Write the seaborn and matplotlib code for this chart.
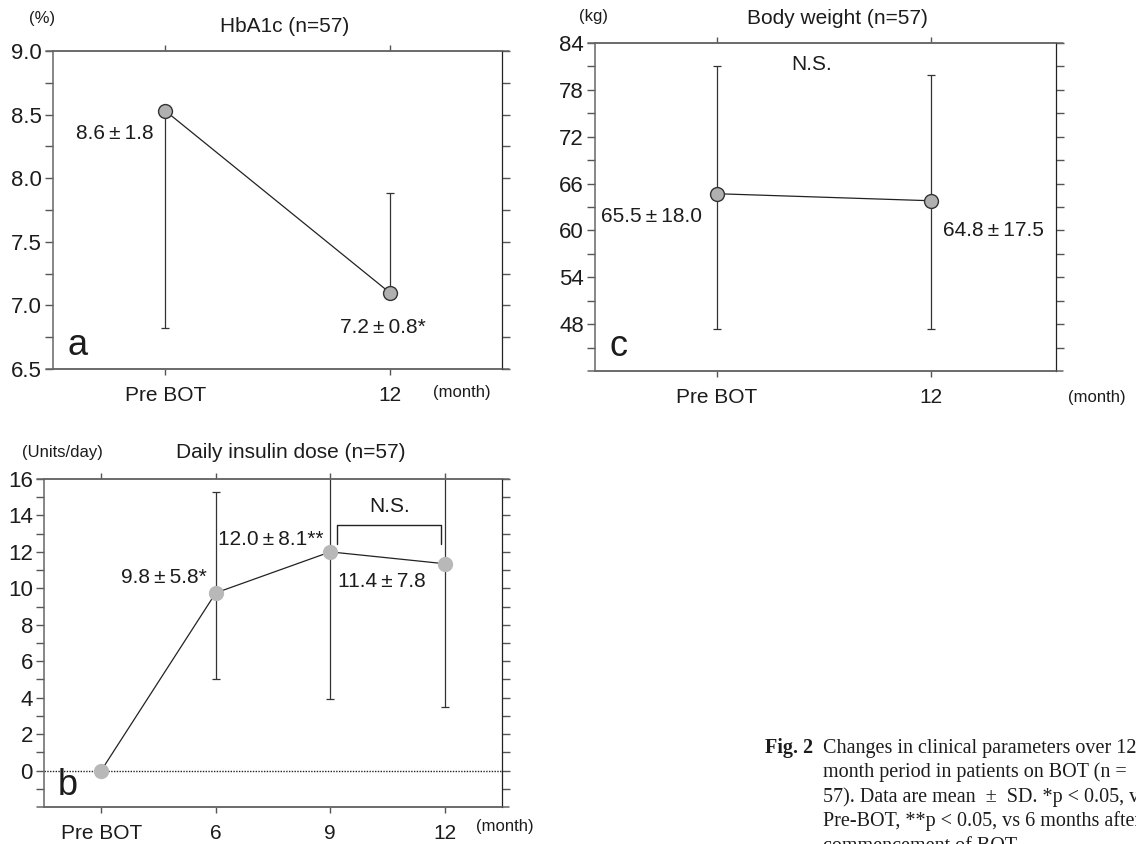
import numpy as np
import pandas as pd
import seaborn as sns
import matplotlib.pyplot as plt

sns.set_theme(style='ticks')
plt.rcParams['font.family'] = ['Liberation Sans', 'DejaVu Sans']

W, H = 1136, 844

# panel a: HbA1c (%)
hba1c_labels = ['Pre BOT', '12']
hba1c_mean = [8.53, 7.10]
hba1c_err_low = [1.71, 0.0]
hba1c_err_high = [0.0, 0.78]
hba1c_text = ['8.6\u2009±\u20091.8', '7.2\u2009±\u20090.8*']

# panel b: daily insulin dose (Units/day)
insulin_labels = ['Pre BOT', '6', '9', '12']
insulin_mean = [0.0, 9.75, 12.0, 11.35]
insulin_err_low = [0.0, 4.75, 8.1, 7.85]
insulin_err_high = [0.0, 5.55, 8.1, 7.85]
insulin_text = ['9.8\u2009±\u20095.8*', '12.0\u2009±\u20098.1**', '11.4\u2009±\u20097.8']

# panel c: body weight (kg)
weight_labels = ['Pre BOT', '12']
weight_mean = [64.7, 63.8]
weight_err_low = [17.3, 16.4]
weight_err_high = [16.4, 16.1]
weight_text = ['65.5\u2009±\u200918.0', '64.8\u2009±\u200917.5']

caption = [
    'Changes in clinical parameters over 12-',
    'month period in patients on BOT (n =',
    '57). Data are mean  ±  SD. *p < 0.05, vs',
    'Pre-BOT, **p < 0.05, vs 6 months after',
    'commencement of BOT.',
]

fig = plt.figure(figsize=(W / 100, H / 100), dpi=100)
fig.patch.set_facecolor('white')
INK = '#1c1c1c'


def px_axes(l, t, r, b):
    return fig.add_axes([l / W, 1 - b / H, (r - l) / W, (b - t) / H])


def ftext(x, y, s, **kw):
    kw.setdefault('color', INK)
    fig.text(x / W, 1 - y / H, s, **kw)


def style(ax, labels, xlim, ylim, majors, minors):
    ax.set_xlim(xlim)
    ax.set_ylim(ylim)
    ax.set_xticks(range(len(labels)))
    ax.set_xticklabels(labels)
    ax.set_yticks(majors)
    ax.set_yticks(minors, minor=True)
    ax.set_xlabel('')
    ax.set_ylabel('')
    ax.tick_params(axis='y', which='both', left=True, right=True, direction='out',
                   length=6, width=1, color='#555555', labelsize=16,
                   labelcolor=INK, pad=2)
    ax.tick_params(axis='x', which='major', bottom=True, top=True, direction='out',
                   length=4, width=1, color='#555555', labelsize=15,
                   labelcolor=INK, pad=8)
    for side in ['left', 'top', 'bottom']:
        ax.spines[side].set_color('#666666')
        ax.spines[side].set_linewidth(1.1)
    ax.spines['right'].set_color('#222222')
    ax.spines['right'].set_linewidth(0.9)
    # top / bottom frame lines run out past the side ticks
    bb = ax.get_position()
    ext = 7 / (bb.width * W)
    for yy in (0, 1):
        ax.plot([-ext, 1 + ext], [yy, yy], transform=ax.transAxes, clip_on=False,
                color='#666666', lw=1.1)


def draw_series(ax, labels, mean, low, high, face, edge):
    x = np.arange(len(labels))
    ax.errorbar(x, mean, yerr=[low, high], fmt='none', ecolor='#333333',
                elinewidth=0.9, capsize=3, capthick=0.9, zorder=1)
    sns.lineplot(x=x, y=mean, ax=ax, color='#222222', lw=0.9, marker='o',
                 markersize=10, markerfacecolor=face, markeredgecolor=edge,
                 markeredgewidth=1.0, zorder=3)


# ---- panel a
ax_a = px_axes(53, 51, 502, 369)
draw_series(ax_a, hba1c_labels, hba1c_mean, hba1c_err_low, hba1c_err_high,
            '#b0b0b0', '#333333')
style(ax_a, hba1c_labels, (-0.5, 1.5), (6.5, 9.0),
      np.arange(6.5, 9.01, 0.5), np.arange(6.75, 9.0, 0.5))
ax_a.text(-0.05, 8.35, hba1c_text[0], ha='right', va='center', fontsize=15, color=INK)
ax_a.text(0.78, 6.83, hba1c_text[1], ha='left', va='center', fontsize=15, color=INK)
ax_a.text(0.033, 0.075, 'a', transform=ax_a.transAxes, ha='left', va='center',
          fontsize=26, color=INK)
ftext(42, 18, '(%)', ha='center', va='center', fontsize=12)
ftext(285, 27, 'HbA1c (n=57)', ha='center', va='center', fontsize=15)
ftext(462, 393, '(month)', ha='center', va='center', fontsize=12)

# ---- panel c
ax_c = px_axes(595, 43, 1056, 371)
draw_series(ax_c, weight_labels, weight_mean, weight_err_low, weight_err_high,
            '#b0b0b0', '#333333')
style(ax_c, weight_labels, (-0.57, 1.584), (42, 84),
      np.arange(48, 85, 6), np.arange(45, 84, 6))
ax_c.text(0.032, 0.075, 'c', transform=ax_c.transAxes, ha='left', va='center',
          fontsize=26, color=INK)
ftext(702, 217, weight_text[0], ha='right', va='center', fontsize=15)
ftext(943, 230, weight_text[1], ha='left', va='center', fontsize=15)
ftext(812, 65, 'N.S.', ha='center', va='center', fontsize=15)
ftext(593, 17, '(kg)', ha='center', va='center', fontsize=12)
ftext(837, 19, 'Body weight (n=57)', ha='center', va='center', fontsize=15)
ftext(1097, 398, '(month)', ha='center', va='center', fontsize=12)

# ---- panel b
ax_b = px_axes(44, 479, 502, 807)
ax_b.axhline(0, ls=(0, (1, 1)), color='#222222', lw=1.0, zorder=0)
draw_series(ax_b, insulin_labels, insulin_mean, insulin_err_low, insulin_err_high,
            '#b8b8b8', '#b8b8b8')
style(ax_b, insulin_labels, (-0.5, 3.5), (-2, 16),
      np.arange(0, 17, 2), np.arange(-1, 16, 2))
ax_b.text(0.924, 10.6, insulin_text[0], ha='right', va='center', fontsize=15, color=INK)
ax_b.text(1.02, 12.7, insulin_text[1], ha='left', va='center', fontsize=15, color=INK)
ax_b.text(2.068, 10.4, insulin_text[2], ha='left', va='center', fontsize=15, color=INK)
# N.S. bracket between 9 and 12 months
bx0, bx1 = 2 + 0.06, 3 - 0.03
ax_b.plot([bx0, bx0, bx1, bx1], [12.46, 13.5, 13.5, 12.46], color='#222222', lw=1.0)
ax_b.text((bx0 + bx1) / 2, 14.5, 'N.S.', ha='center', va='center', fontsize=15,
          color=INK)
ax_b.text(0.03, 0.067, 'b', transform=ax_b.transAxes, ha='left', va='center',
          fontsize=26, color=INK)
ftext(62, 453, '(Units/day)', ha='center', va='center', fontsize=12)
ftext(291, 453, 'Daily insulin dose (n=57)', ha='center', va='center', fontsize=15)
ftext(505, 826, '(month)', ha='center', va='center', fontsize=12)

# ---- caption (runs off the right and bottom edges, as in the source)
serif = ['Liberation Serif', 'DejaVu Serif']
cap_y0, cap_dy = 748, 24.5
ftext(765, cap_y0, 'Fig. 2', ha='left', va='center', fontsize=14.5, fontweight='bold',
      family=serif)
for i, line in enumerate(caption):
    ftext(823, cap_y0 + i * cap_dy, line, ha='left', va='center', fontsize=14.5,
          family=serif)

fig.savefig('out.png', dpi=100)
